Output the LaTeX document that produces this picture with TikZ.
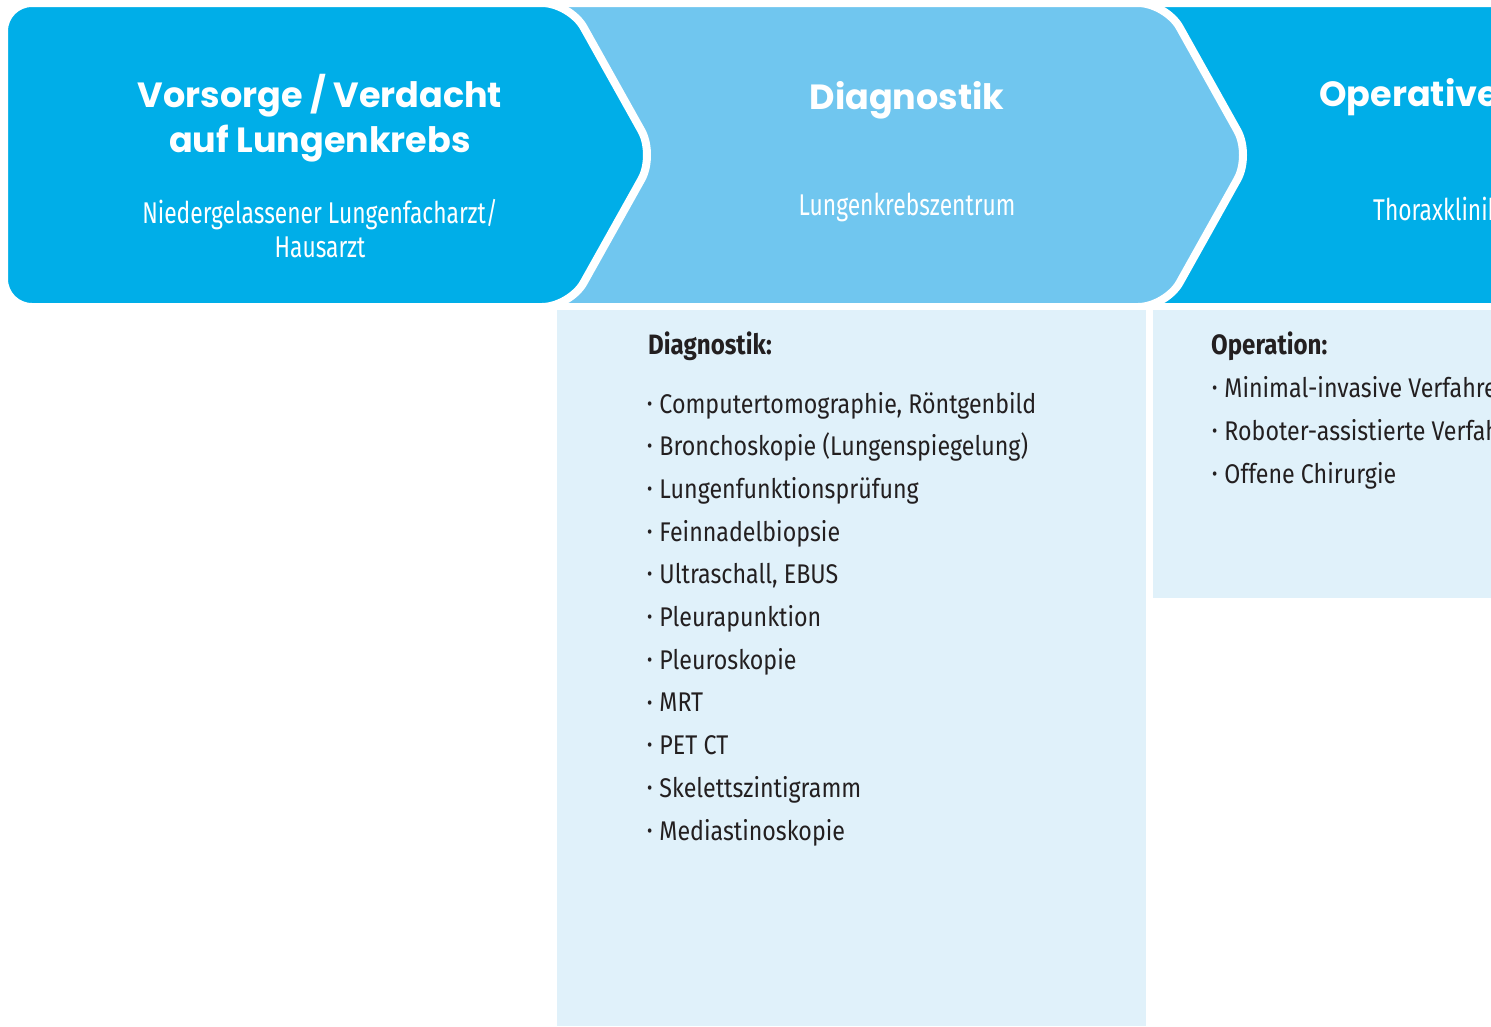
\documentclass[tikz,border=0pt]{standalone}
\usepackage{fontspec}
\setmainfont{Fira Sans}[FakeStretch=0.86]
\newfontfamily\placefont{Fira Sans}[FakeStretch=0.76]
\newfontfamily\headfont{Poppins}

\definecolor{stepblue}{HTML}{00AEE8}
\definecolor{steplight}{HTML}{70C6EF}
\definecolor{boxblue}{HTML}{E0F1FA}
\definecolor{textgray}{HTML}{231F20}

\newcommand{\listdot}{\raisebox{0.2ex}{\scalebox{0.7}{•}}\hspace{7pt}}

\tikzset{
  phase/.style={draw=white, line width=8pt, rounded corners=28pt},
  title/.style={white, font=\headfont\bfseries\fontsize{35}{45}\selectfont, align=center, inner sep=0pt},
  place/.style={white, font=\placefont\fontsize{30}{34}\selectfont, align=center, inner sep=0pt},
  listhead/.style={textgray, font=\bfseries\fontsize{28}{30}\selectfont, anchor=base west, inner sep=0pt},
  listitem/.style={textgray, font=\fontsize{27}{30}\selectfont, anchor=base west, inner sep=0pt},
}

\begin{document}
\begin{tikzpicture}[x=1pt, y=-1pt]
    \useasboundingbox (0,0) rectangle (1491,1026);
    \clip (0,0) rectangle (1491,1026);

    % Phase arrows, drawn from right to left so each tip lies on the next one
    \path[phase, fill=stepblue] (1080,3) -- (1600,3) -- (1600,307) -- (1080,307) -- cycle;
    \path[phase, fill=steplight] (480,3) -- (1166,3) -- (1251,155) -- (1166,307) -- (480,307) -- cycle;
    \path[phase, fill=stepblue] (4,3) -- (570,3) -- (655,155) -- (570,307) -- (4,307) -- cycle;

    % Boxes below the phases
    \fill[boxblue] (557,310) rectangle (1146,1026);
    \fill[boxblue] (1153,310) rectangle (1491,598);

    % Phase 1
    \node[title, anchor=base] (vorsorge) at (320,152) {Vorsorge / Verdacht\\auf Lungenkrebs};
    \node[place, anchor=base] (arzt) at (320,257) {Niedergelassener Lungenfacharzt/\\Hausarzt};

    % Phase 2
    \node[title, anchor=base] (diagnostik) at (907,109) {Diagnostik};
    \node[place, anchor=base] (zentrum) at (907,215) {Lungenkrebszentrum};

    % Phase 3
    \node[title, anchor=base west] (operative) at (1319,106) {Operative};
    \node[place, anchor=base west] (klinik) at (1373,220) {Thoraxklinik};

    % Diagnostic methods
    \node[listhead] (diag-head) at (648,354) {Diagnostik:};
    \foreach \entry [count=\i] in {{Computertomographie, Röntgenbild}, Bronchoskopie (Lungenspiegelung),
        Lungenfunktionsprüfung, Feinnadelbiopsie, {Ultraschall, EBUS}, Pleurapunktion, Pleuroskopie,
        MRT, PET CT, Skelettszintigramm, Mediastinoskopie}
        \node[listitem] (diag-\i) at (647,{413+42.7*(\i-1)}) {\listdot\entry};

    % Surgical options
    \node[listhead] (op-head) at (1211,354) {Operation:};
    \foreach \entry [count=\i] in {Minimal-invasive Verfahren, Roboter-assistierte Verfahren, Offene Chirurgie}
        \node[listitem] (op-\i) at (1212,{397+43*(\i-1)}) {\listdot\entry};
\end{tikzpicture}
\end{document}
